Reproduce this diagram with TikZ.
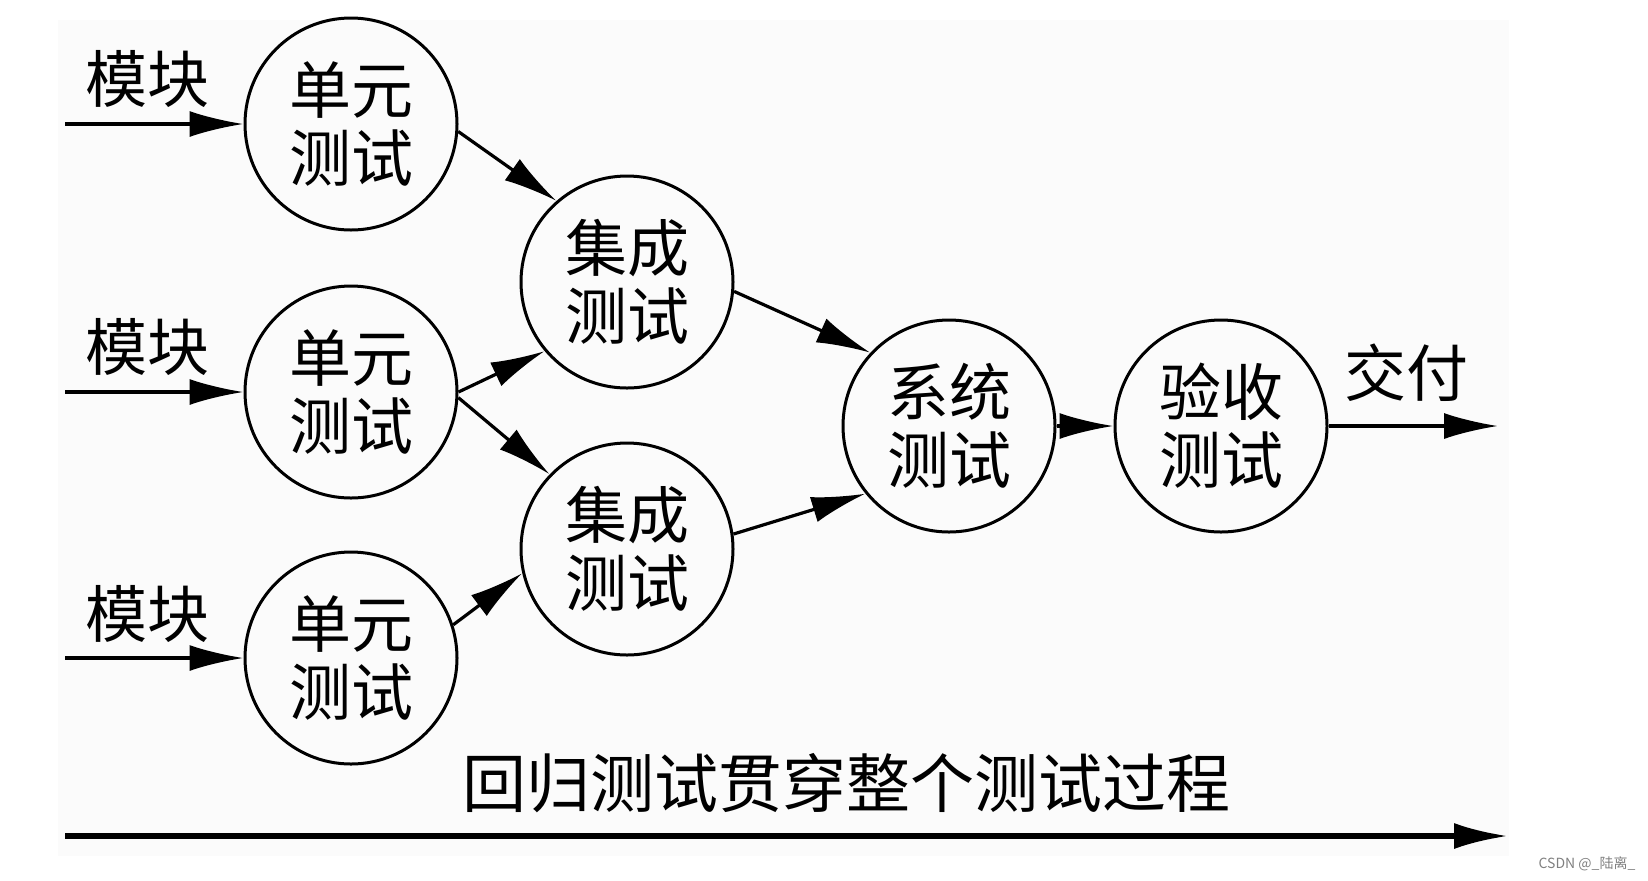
\documentclass[tikz,border=0pt]{standalone}
\usepackage{fontspec}
\newfontfamily\cjk{Noto Sans CJK SC}
\usetikzlibrary{arrows.meta}

\begin{document}
\begin{tikzpicture}[x=0.5pt,y=-0.5pt,
	main/.style = {draw, circle, line width=1.5pt, minimum size=106pt, inner sep=0pt, align=center, font=\cjk\fontsize{31}{34}\selectfont},
	lab/.style = {font=\cjk\fontsize{31}{34}\selectfont},
	go/.style = {line width=1.6pt, -{Latex[length=27pt,width=13pt]}}]
	\useasboundingbox (0,0) rectangle (1648,880);
	\fill[gray!3] (58,20) rectangle (1509,856);
	\node[main] (1) at (351,124) {单元\\测试};
	\node[main] (2) at (351,392) {单元\\测试};
	\node[main] (3) at (351,658) {单元\\测试};
	\node[main] (4) at (627,282) {集成\\测试};
	\node[main] (5) at (627,549) {集成\\测试};
	\node[main] (6) at (949,426) {系统\\测试};
	\node[main] (7) at (1221,426) {验收\\测试};
	\coordinate (a1) at (65,124);
	\coordinate (a2) at (65,392);
	\coordinate (a3) at (65,658);
	\coordinate (b) at (1498,426);
	\coordinate (c1) at (65,836);
	\coordinate (c2) at (1508,836);
	\node[lab] (m1) at (147,79) {模块};
	\node[lab] (m2) at (147,347) {模块};
	\node[lab] (m3) at (147,614) {模块};
	\node[lab] (out) at (1406,373) {交付};
	\node[font=\cjk\fontsize{32}{34}\selectfont] (reg) at (846,783) {回归测试贯穿整个测试过程};
	\node[font=\cjk\fontsize{7}{8}\selectfont, text=gray] (wm) at (1587,864) {CSDN @\_陆离\_};
	\draw[go] (a1) -- (1);
	\draw[go] (a2) -- (2);
	\draw[go] (a3) -- (3);
	\draw[go] (1.-4) -- (4.131);
	\draw[go] (2.0) -- (4.220);
	\draw[go] (2.-3) -- (5.136);
	\draw[go] (3.18) -- (5.193);
	\draw[go] (4.-5) -- (6.137);
	\draw[go] (5.8) -- (6.219);
	\draw[go] (6) -- (7);
	\draw[go] (7) -- (b);
	\draw[go, line width=2.6pt] (c1) -- (c2);
\end{tikzpicture}
\end{document}
